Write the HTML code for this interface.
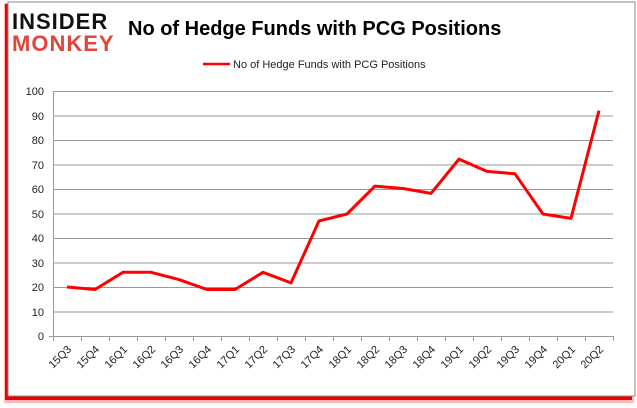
<!DOCTYPE html><html><head><style>body{margin:0;background:#fff}svg{display:block}text{font-family:"Liberation Sans",sans-serif}</style></head><body>
<svg width="637" height="408" xmlns="http://www.w3.org/2000/svg">
<rect x="4" y="3" width="630" height="400" fill="#f33" opacity="0.35"/>
<rect x="5" y="4" width="627" height="396" fill="#e00"/>
<rect x="8" y="2" width="627" height="394" fill="#fff" stroke="#888" stroke-width="1"/>
<text x="12" y="29" font-size="22" font-weight="bold" fill="#111" letter-spacing="1">INSIDER</text>
<text x="12" y="51" font-size="22" font-weight="bold" fill="#e0463a" letter-spacing="1">MONKEY</text>
<text x="128" y="35" font-size="20" font-weight="bold" fill="#000">No of Hedge Funds with PCG Positions</text>
<line x1="203" y1="64" x2="230" y2="64" stroke="#f00" stroke-width="2.5"/>
<text x="233" y="68" font-size="11" fill="#222">No of Hedge Funds with PCG Positions</text>
<g stroke="#999" stroke-width="1">
<line x1="53" y1="91.5" x2="613" y2="91.5"/><line x1="53" y1="116" x2="613" y2="116"/><line x1="53" y1="140.5" x2="613" y2="140.5"/><line x1="53" y1="165" x2="613" y2="165"/><line x1="53" y1="189.5" x2="613" y2="189.5"/><line x1="53" y1="214" x2="613" y2="214"/><line x1="53" y1="238.5" x2="613" y2="238.5"/><line x1="53" y1="263" x2="613" y2="263"/><line x1="53" y1="287.5" x2="613" y2="287.5"/><line x1="53" y1="312" x2="613" y2="312"/><line x1="49" y1="336.5" x2="613" y2="336.5"/>
<line x1="53.5" y1="91" x2="53.5" y2="336"/>
</g>
<g stroke="#999"><path d="M53.5 336v5M81.5 336v5M109.5 336v5M137.5 336v5M165.5 336v5M193.5 336v5M221.5 336v5M249.5 336v5M277.5 336v5M305.5 336v5M333.5 336v5M361.5 336v5M389.5 336v5M417.5 336v5M445.5 336v5M473.5 336v5M501.5 336v5M529.5 336v5M557.5 336v5M585.5 336v5M613.5 336v5"/></g>
<g font-size="11" fill="#222" text-anchor="end">
<text x="44" y="95">100</text><text x="44" y="120">90</text><text x="44" y="144">80</text><text x="44" y="169">70</text><text x="44" y="193">60</text><text x="44" y="218">50</text><text x="44" y="242">40</text><text x="44" y="267">30</text><text x="44" y="291">20</text><text x="44" y="316">10</text><text x="44" y="340">0</text>
</g>
<g font-size="11" fill="#222" text-anchor="end">
<text transform="translate(72,350) rotate(-45)">15Q3</text><text transform="translate(100,350) rotate(-45)">15Q4</text><text transform="translate(128,350) rotate(-45)">16Q1</text><text transform="translate(156,350) rotate(-45)">16Q2</text><text transform="translate(184,350) rotate(-45)">16Q3</text><text transform="translate(212,350) rotate(-45)">16Q4</text><text transform="translate(240,350) rotate(-45)">17Q1</text><text transform="translate(268,350) rotate(-45)">17Q2</text><text transform="translate(296,350) rotate(-45)">17Q3</text><text transform="translate(324,350) rotate(-45)">17Q4</text><text transform="translate(352,350) rotate(-45)">18Q1</text><text transform="translate(380,350) rotate(-45)">18Q2</text><text transform="translate(408,350) rotate(-45)">18Q3</text><text transform="translate(436,350) rotate(-45)">18Q4</text><text transform="translate(464,350) rotate(-45)">19Q1</text><text transform="translate(492,350) rotate(-45)">19Q2</text><text transform="translate(520,350) rotate(-45)">19Q3</text><text transform="translate(548,350) rotate(-45)">19Q4</text><text transform="translate(576,350) rotate(-45)">20Q1</text><text transform="translate(604,350) rotate(-45)">20Q2</text>
</g>
<polyline fill="none" stroke="#f00" stroke-width="3" stroke-linejoin="round" points="67,287 95,289.5 123,272.3 151,272.3 179,279.6 207,289.5 235,289.5 263,272.3 291,282.9 319,220.9 347,214 375,186.1 403,188.5 431,193.4 459,159.1 487,171.4 515,173.8 543,214 571,218.4 599,110.6"/>
</svg>
</body></html>
